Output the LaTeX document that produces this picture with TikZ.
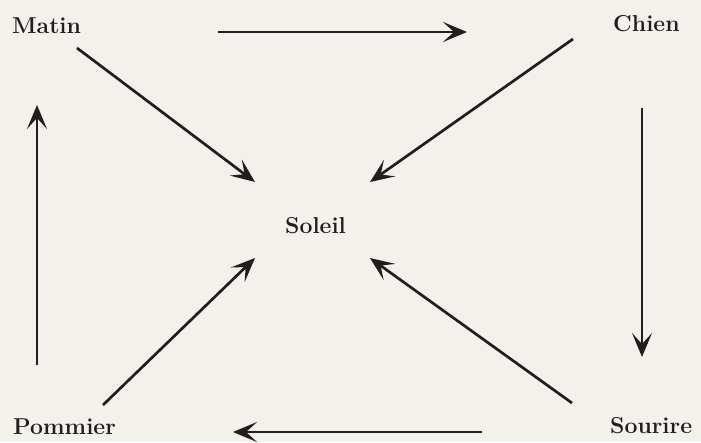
\documentclass[tikz,border=0pt]{standalone}
\usetikzlibrary{arrows.meta}
\definecolor{paper}{RGB}{243,241,236}
\definecolor{ink}{RGB}{34,30,30}
\tikzset{
  word/.style={inner sep=0pt, anchor=base west, text=ink,
    font=\fontsize{23}{27}\selectfont\bfseries},
  arr/.style={draw=ink, line width=2.7pt,
    arrows={-Stealth[length=24pt, width=20pt, inset=11pt]}},
}
\begin{document}
\begin{tikzpicture}[x=1pt, y=-1pt]
  \fill[paper] (0,0) rectangle (701,442);
  \useasboundingbox (0,0) rectangle (701,442);

  % the five words
  \node[word] (matin)   at (12,33)  {Matin};
  \node[word] (chien)   at (613,31) {Chien};
  \node[word] (soleil)  at (285,233) {Soleil};
  \node[word] (pommier) at (13,434) {Pommier};
  \node[word] (sourire) at (610,433) {Sourire};

  % outer cycle
  \draw[arr] ([shift={(206,-1)}]matin.base west) -- ([shift={(-146,1)}]chien.base west);
  \draw[arr] ([shift={(29,77)}]chien.base west) -- ([shift={(32,-76)}]sourire.base west);
  \draw[arr] ([shift={(-128,-1)}]sourire.base west) -- ([shift={(220,-2)}]pommier.base west);
  \draw[arr] ([shift={(24,-69)}]pommier.base west) -- ([shift={(25,72)}]matin.base west);

  % spokes into the centre
  \draw[arr] ([shift={(65,15)}]matin.base west) -- ([shift={(-30,-51)}]soleil.base west);
  \draw[arr] ([shift={(-40,8)}]chien.base west) -- ([shift={(85,-51)}]soleil.base west);
  \draw[arr] ([shift={(-38,-30)}]sourire.base west) -- ([shift={(85,25)}]soleil.base west);
  \draw[arr] ([shift={(90,-29)}]pommier.base west) -- ([shift={(-30,25)}]soleil.base west);
\end{tikzpicture}
\end{document}
